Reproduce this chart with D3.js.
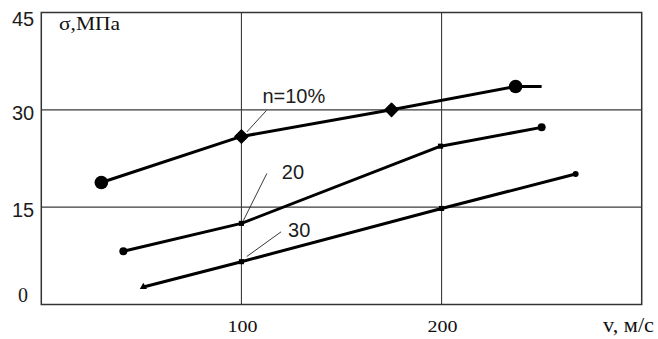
<!DOCTYPE html>
<html>
<head>
<meta charset="utf-8">
<script src="https://cdn.jsdelivr.net/npm/d3@7"></script>
<style>
  html, body { margin: 0; padding: 0; background: #fff; }
  svg { display: block; }
</style>
</head>
<body>
<svg id="chart" width="658" height="339"></svg>
<script>
// Strength σ (MPa) versus velocity v (m/s) for three porosity levels n
const yTicks = [45, 30, 15, 0];
const xTicks = [100, 200];

const n10X = [30, 100, 175, 237, 250];
const n10Y = [18.8, 25.9, 30.0, 33.6, 33.6];

const n20X = [41, 100, 199.5, 250];
const n20Y = [8.2, 12.5, 24.4, 27.3];

const n30X = [51, 100, 200, 267];
const n30Y = [2.7, 6.6, 14.8, 20.1];

// curve labels and their leader lines (data units)
const labelText = ["n=10%", "20", "30"];
const labelX = [110.5, 120.2, 123.3];
const labelY = [31.0, 19.4, 10.4];
const leaderFrom = [[112.5, 29.9], [112.7, 20.2], [119.8, 11.2]];
const leaderTo = [[102.7, 26.6], [100.9, 12.9], [102.7, 7.4]];

const series = [
  { xs: n10X, ys: n10Y, marks: ["circle", "diamond", "diamond", "circle", null], big: true },
  { xs: n20X, ys: n20Y, marks: ["circle", "square", "square", "circle"], big: false },
  { xs: n30X, ys: n30Y, marks: ["triangle", "square", "square", "circle"], big: false }
];

const svg = d3.select("#chart");
const x = d3.scaleLinear().domain([0, 300]).range([41.3, 641.7]);
const y = d3.scaleLinear().domain([0, 45]).range([304.5, 12.5]);

// grid
const grid = svg.append("g").attr("stroke", "#3a3a3a").attr("stroke-width", 1.1);
grid.selectAll("line.v").data(xTicks).join("line")
  .attr("x1", d => x(d)).attr("x2", d => x(d))
  .attr("y1", y(45)).attr("y2", y(0));
grid.selectAll("line.h").data([15, 30]).join("line")
  .attr("x1", x(0)).attr("x2", x(300))
  .attr("y1", d => y(d)).attr("y2", d => y(d));

// frame
svg.append("rect")
  .attr("x", x(0)).attr("y", y(45))
  .attr("width", x(300) - x(0)).attr("height", y(0) - y(45))
  .attr("fill", "none").attr("stroke", "#333").attr("stroke-width", 1.5);

// y tick labels
svg.append("g").selectAll("text").data(yTicks).join("text")
  .attr("x", 23)
  .attr("y", d => Math.min(Math.max(y(d) + 10, 26), 302))
  .attr("text-anchor", "middle")
  .attr("font-family", d => d === 0 ? "Liberation Serif, serif" : "Liberation Sans, Arial, sans-serif")
  .attr("font-size", 20)
  .attr("fill", "#1c1c1c")
  .text(d => d);

// x tick labels
svg.append("g").selectAll("text").data(xTicks).join("text")
  .attr("x", d => x(d) + 1)
  .attr("y", 332)
  .attr("text-anchor", "middle")
  .attr("font-family", "Liberation Serif, Times New Roman, serif")
  .attr("font-size", 17)
  .attr("textLength", 30)
  .attr("lengthAdjust", "spacingAndGlyphs")
  .attr("fill", "#111")
  .text(d => d);

// axis titles
svg.append("text")
  .attr("x", 603).attr("y", 332)
  .attr("font-family", "Liberation Serif, Times New Roman, serif")
  .attr("font-size", 20)
  .attr("textLength", 51)
  .attr("lengthAdjust", "spacingAndGlyphs")
  .attr("fill", "#111")
  .text("v, м/с");

svg.append("text")
  .attr("x", 59).attr("y", 30)
  .attr("font-family", "Liberation Serif, Times New Roman, serif")
  .attr("font-size", 18)
  .attr("textLength", 61)
  .attr("lengthAdjust", "spacingAndGlyphs")
  .attr("fill", "#111")
  .text("σ,МПа");

// curves
const line = d3.line().x(d => x(d[0])).y(d => y(d[1]));
series.forEach(s => {
  const pts = s.xs.map((v, i) => [v, s.ys[i]]);
  svg.append("path").datum(pts)
    .attr("d", line)
    .attr("fill", "none").attr("stroke", "#000")
    .attr("stroke-width", 3).attr("stroke-linejoin", "round");

  const g = svg.append("g").attr("fill", "#000");
  pts.forEach((p, i) => {
    const m = s.marks[i];
    if (!m) return;
    const cx = x(p[0]), cy = y(p[1]);
    if (m === "circle") {
      g.append("circle").attr("cx", cx).attr("cy", cy).attr("r", s.big ? 6.8 : (s === series[2] ? 3 : 4));
    } else if (m === "diamond") {
      g.append("path")
        .attr("d", d3.symbol().type(d3.symbolSquare).size(85)())
        .attr("transform", `translate(${cx},${cy}) rotate(45)`)
        .attr("stroke", "#000").attr("stroke-width", 1.5).attr("stroke-linejoin", "round");
    } else if (m === "square") {
      g.append("path")
        .attr("d", d3.symbol().type(d3.symbolSquare).size(26)())
        .attr("transform", `translate(${cx},${cy})`);
    } else if (m === "triangle") {
      g.append("path")
        .attr("d", d3.symbol().type(d3.symbolTriangle).size(22)())
        .attr("transform", `translate(${cx},${cy})`);
    }
  });
});

// leader lines and labels
const ann = svg.append("g");
labelText.forEach((t, i) => {
  ann.append("line")
    .attr("x1", x(leaderFrom[i][0])).attr("y1", y(leaderFrom[i][1]))
    .attr("x2", x(leaderTo[i][0])).attr("y2", y(leaderTo[i][1]))
    .attr("stroke", "#222").attr("stroke-width", 0.9);
  ann.append("text")
    .attr("x", x(labelX[i])).attr("y", y(labelY[i]))
    .attr("font-family", "Liberation Sans, Arial, sans-serif")
    .attr("font-size", 20)
    .attr("fill", "#1c1c1c")
    .text(t);
});
</script>
</body>
</html>
